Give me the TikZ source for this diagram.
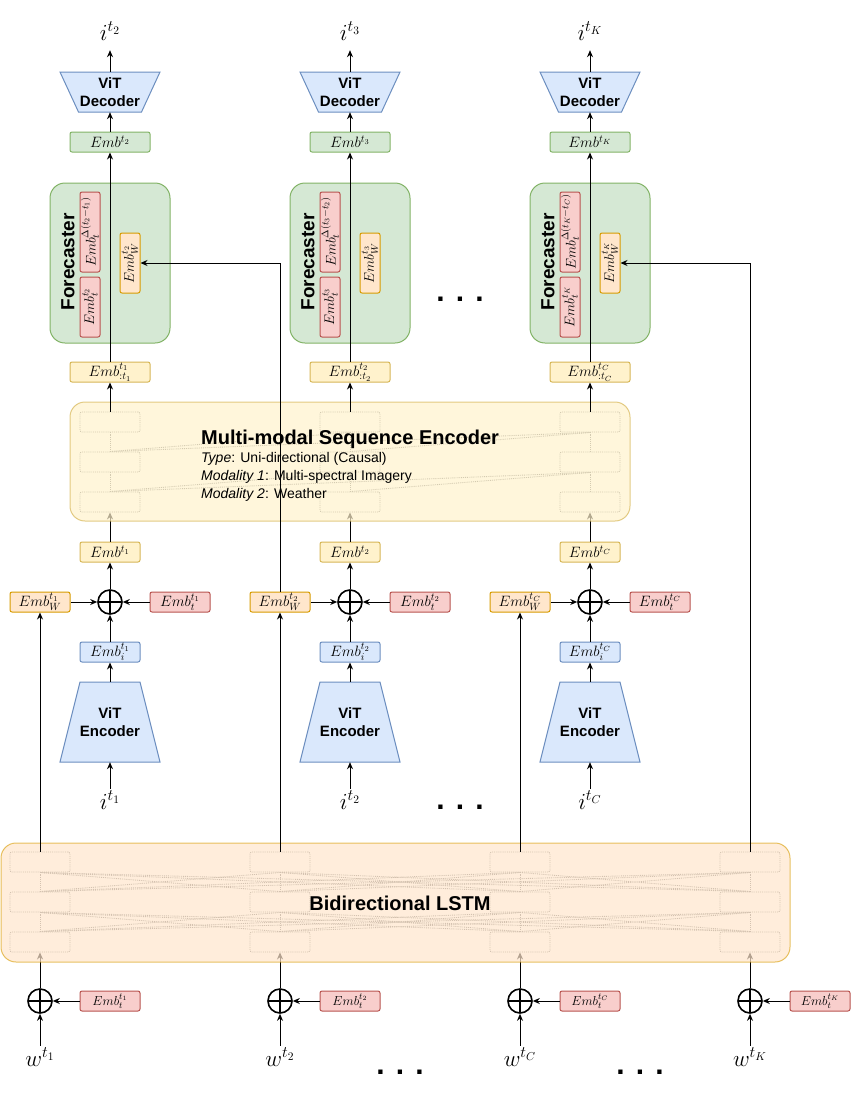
\RequirePackage{fix-cm}
\documentclass[tikz,border=0pt]{standalone}
\usepackage[no-math]{fontspec}
\setmainfont{Liberation Sans}
\usepackage{amsmath}
\usepackage{graphicx}
\usetikzlibrary{arrows.meta,positioning}

\definecolor{bluefill}{HTML}{DAE8FC}
\definecolor{blueline}{HTML}{6C8EBF}
\definecolor{greenfill}{HTML}{D5E8D4}
\definecolor{greenline}{HTML}{82B366}
\definecolor{yellowfill}{HTML}{FFF2CC}
\definecolor{yellowline}{HTML}{D6B656}
\definecolor{orangefill}{HTML}{FFE6CC}
\definecolor{orangeline}{HTML}{D79B00}
\definecolor{redfill}{HTML}{F8CECC}
\definecolor{redline}{HTML}{B85450}
\definecolor{cellline}{HTML}{707070}

\begin{document}
\begin{tikzpicture}[x=1pt,y=-1pt]

\tikzset{
  EmbStyle/.style = {rectangle, rounded corners=2pt, draw, line width=1pt,
                     minimum height=20pt, inner sep=0pt,
                     font=\fontsize{15}{17}\selectfont},
  WideEmb/.style = {EmbStyle, minimum width=80pt},
  ShortEmb/.style = {EmbStyle, minimum width=60pt},
  TallEmb/.style = {EmbStyle, minimum width=20pt, font=\fontsize{14}{16}\selectfont},
  GreenEmb/.style = {fill=greenfill, draw=greenline},
  YellowEmb/.style = {fill=yellowfill, draw=yellowline},
  OrangeEmb/.style = {fill=orangefill, draw=orangeline},
  RedEmb/.style = {fill=redfill, draw=redline},
  BlueEmb/.style = {fill=bluefill, draw=blueline},
  VitShape/.style = {fill=bluefill, draw=blueline, line width=1pt},
  VitText/.style = {align=center, inner sep=0pt, minimum width=60pt,
                    font=\bfseries\fontsize{15}{18}\selectfont},
  PlusStyle/.style = {circle, draw, line width=1.6pt, minimum size=24pt, inner sep=0pt,
    path picture={\draw[line width=1.6pt]
      (path picture bounding box.north) -- (path picture bounding box.south)
      (path picture bounding box.west) -- (path picture bounding box.east);}},
  LabelStyle/.style = {inner sep=2pt, font=\fontsize{23}{27}\selectfont},
  TitleStyle/.style = {inner sep=0pt, font=\bfseries\fontsize{20}{24}\selectfont},
  TextStyle/.style = {inner sep=0pt, font=\fontsize{14}{17}\selectfont},
  BlockStyle/.style = {rectangle, rounded corners=15pt, line width=1pt},
  CellStyle/.style = {rectangle, rounded corners=2pt, draw=cellline, densely dotted,
                      line width=0.9pt, minimum width=60pt, minimum height=20pt, inner sep=0pt},
  CellLink/.style = {draw=cellline, densely dotted, line width=0.9pt},
  DotsStyle/.style = {inner sep=0pt, font=\bfseries\fontsize{30}{30}\selectfont},
  EdgeStyle/.style = {-{Stealth[length=7pt,width=6pt]}, line width=1pt}
}
\useasboundingbox (0,0) rectangle (851,1111);

% image encoders
\foreach \c/\n/\s in {110/1/1, 350/2/2, 590/3/C} {
  \node[ShortEmb, YellowEmb] (embm\n) at (\c,552) {$Emb^{t_\s}$};
  \node[PlusStyle] (plus\n) at (\c,602) {};
  \node[ShortEmb, OrangeEmb] (embw\n) at (\c-70,602) {$Emb_W^{t_\s}$};
  \node[ShortEmb, RedEmb] (embt\n) at (\c+70,602) {$Emb_t^{t_\s}$};
  \node[ShortEmb, BlueEmb] (embi\n) at (\c,652) {$Emb_i^{t_\s}$};
  \filldraw[VitShape] (\c-30,682) -- (\c+30,682) -- (\c+50,762) -- (\c-50,762) -- cycle;
  \node[VitText, minimum height=80pt] (enc\n) at (\c,722) {ViT\\Encoder};
  \node[LabelStyle, anchor=base] (img\n) at (\c,809) {$i^{t_\s}$};
  \draw[EdgeStyle] (img\n.north) -- (enc\n.south);
  \draw[EdgeStyle] (enc\n.north) -- (embi\n.south);
  \draw[EdgeStyle] (embi\n.north) -- (plus\n.south);
  \draw[EdgeStyle] (embw\n.east) -- (plus\n.west);
  \draw[EdgeStyle] (embt\n.west) -- (plus\n.east);
  \draw[EdgeStyle] (plus\n.north) -- (embm\n.south);
}

% weather inputs
\foreach \x/\n/\s in {40/1/1, 280/2/2, 520/3/C, 750/4/K} {
  \node[PlusStyle] (wplus\n) at (\x,1001) {};
  \node[ShortEmb, RedEmb, font=\fontsize{13}{15}\selectfont] (wembt\n) at (\x+70,1001) {$Emb_t^{t_\s}$};
  \node[LabelStyle, anchor=base] (wth\n) at (\x,1066) {$w^{t_\s}$};
  \draw[EdgeStyle] (wth\n.north) -- (wplus\n.south);
  \draw[EdgeStyle] (wembt\n.west) -- (wplus\n.east);
}

% forecasters and decoders
\foreach \c/\n/\o/\s in {110/1/2/1, 350/2/3/2, 590/3/K/C} {
  \node[LabelStyle, anchor=base] (out\n) at (\c,40) {$i^{t_\o}$};
  \filldraw[VitShape] (\c-50,72) -- (\c+50,72) -- (\c+31.5,112) -- (\c-31.5,112) -- cycle;
  \node[VitText, minimum height=40pt] (dec\n) at (\c,92) {ViT\\Decoder};
  \node[WideEmb, GreenEmb] (embout\n) at (\c,142) {$Emb^{t_\o}$};
  \node[BlockStyle, fill=greenfill, draw=greenline,
        minimum width=120pt, minimum height=160pt] (fc\n) at (\c,263) {};
  \node[TitleStyle, rotate=90, font=\bfseries\fontsize{19}{23}\selectfont] (fctitle\n) at (\c-42,262) {Forecaster};
  \node[TallEmb, RedEmb, minimum height=80pt] (fcdelta\n) at (\c-20,232)
    {\rotatebox{90}{$Emb_t^{\Delta(t_\o-t_\s)}$}};
  \node[TallEmb, RedEmb, minimum height=60pt] (fct\n) at (\c-20,307)
    {\rotatebox{90}{$Emb_t^{t_\o}$}};
  \node[TallEmb, OrangeEmb, minimum height=60pt] (fcw\n) at (\c+20,263)
    {\rotatebox{90}{$Emb_W^{t_\o}$}};
  \node[WideEmb, YellowEmb] (embin\n) at (\c,372) {$Emb_{:t_\s}^{t_\s}$};
  \draw[EdgeStyle] (embin\n.north) -- (embout\n.south);
  \draw[EdgeStyle] (embout\n.north) -- (dec\n.south);
  \draw[EdgeStyle, shorten >=8pt] (dec\n.north) -- (out\n.south);
}

% sequence encoder
\foreach \c/\n in {110/1, 350/2, 590/3} {
  \foreach \k/\y in {1/422, 2/462, 3/502}
    \node[CellStyle] (sq\n\k) at (\c,\y) {};
  \draw[CellLink] (sq\n3.north) -- (sq\n2.south) (sq\n2.north) -- (sq\n1.south);
  \draw[EdgeStyle] (embm\n.north) -- (sq\n3.south);
}
\foreach \i/\j in {1/2, 1/3, 2/3}
  \draw[CellLink] (sq\i3.north) -- (sq\j2.south) (sq\i2.north) -- (sq\j1.south);
\node[BlockStyle, fill=yellowfill, draw=yellowline, fill opacity=0.7, draw opacity=0.7,
      minimum width=560pt, minimum height=119pt] (seq) at (350,461.5) {};
\node[TitleStyle, anchor=base west] (seqtitle) at (201,444) {Multi-modal Sequence Encoder};
\node[TextStyle, anchor=base west] (seqtype) at (201,462) {\textit{Type}: Uni-directional (Causal)};
\node[TextStyle, anchor=base west] (seqmod1) at (201,480) {\textit{Modality 1}: Multi-spectral Imagery};
\node[TextStyle, anchor=base west] (seqmod2) at (201,498) {\textit{Modality 2}: Weather};
\foreach \n in {1,2,3}
  \draw[EdgeStyle] (sq\n1.north) -- (embin\n.south);

% weather lstm
\foreach \x/\n in {40/1, 280/2, 520/3, 750/4} {
  \foreach \k/\y in {1/862, 2/902, 3/942}
    \node[CellStyle] (ls\n\k) at (\x,\y) {};
  \draw[CellLink] (ls\n3.north) -- (ls\n2.south) (ls\n2.north) -- (ls\n1.south);
  \draw[EdgeStyle] (wplus\n.north) -- (ls\n3.south);
}
\foreach \i/\j in {1/2, 1/3, 1/4, 2/3, 2/4, 3/4}
  \draw[CellLink] (ls\i3.north) -- (ls\j2.south) (ls\i2.north) -- (ls\j1.south)
                  (ls\j3.north) -- (ls\i2.south) (ls\j2.north) -- (ls\i1.south);
\node[BlockStyle, fill=orangefill, draw=orangeline, fill opacity=0.7, draw opacity=0.6,
      minimum width=789pt, minimum height=119pt] (lstm) at (395.5,902.5) {};
\node[TitleStyle] (lstmtitle) at (400,903) {Bidirectional LSTM};

% weather embeddings
\foreach \n in {1,2,3}
  \draw[EdgeStyle] (ls\n1.north) -- (embw\n.south);
\draw[EdgeStyle] (embw2.north) |- (fcw1.east);
\draw[EdgeStyle] (ls41.north) |- (fcw3.east);

\node[DotsStyle, anchor=base] (dotsfc) at (460,301) {. . .};
\node[DotsStyle, anchor=base] (dotsenc) at (460,809) {. . .};
\node[DotsStyle, anchor=base] (dotswa) at (400,1074) {. . .};
\node[DotsStyle, anchor=base] (dotswb) at (640,1074) {. . .};

\end{tikzpicture}
\end{document}
